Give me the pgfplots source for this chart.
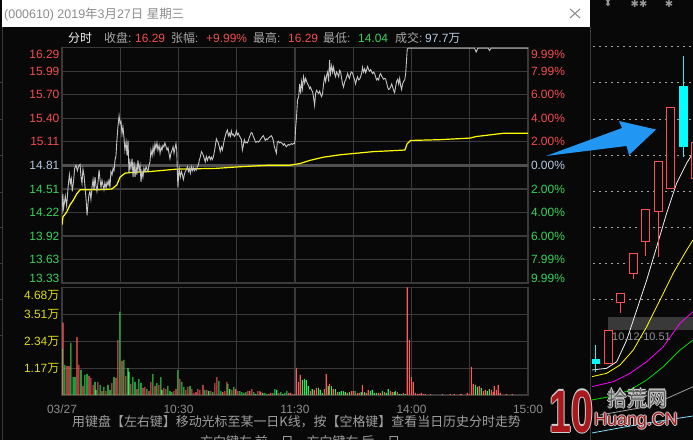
\documentclass[border=0pt]{standalone}
\usepackage{graphicx}
\usepackage{pgfplots}
\pgfplotsset{compat=1.18}
\usepgfplotslibrary{statistics}
\usepackage{fontspec}
\setmainfont{Liberation Sans}
\newfontfamily\cjk{Noto Sans CJK SC}
\newfontfamily\dejavu{DejaVu Sans}
\newcommand\fs[1]{\fontsize{#1}{#1}\selectfont}
\definecolor{bgc}{HTML}{080808}
\definecolor{gridc}{HTML}{3A3A3A}
\definecolor{zeroc}{HTML}{505050}
\definecolor{pred}{HTML}{F24D4D}
\definecolor{pgreen}{HTML}{33D35A}
\definecolor{pblue}{HTML}{B4C8E0}
\definecolor{pyel}{HTML}{DCDC10}
\definecolor{vred}{HTML}{FF5A5A}
\definecolor{vgreen}{HTML}{30E858}
\definecolor{pline}{HTML}{C4C4C4}
\definecolor{avgc}{HTML}{FFFF00}
\definecolor{lblgray}{HTML}{A8A8A8}
\definecolor{ttlgray}{HTML}{8C8C8C}
\definecolor{kred}{HTML}{FF4F4F}
\definecolor{kcyan}{HTML}{00FFFF}
\definecolor{arrowc}{HTML}{2196F3}
\definecolor{mafive}{HTML}{F0F0F0}
\definecolor{maten}{HTML}{FFFF00}
\definecolor{matwenty}{HTML}{FF00FF}
\definecolor{mathirty}{HTML}{00E000}
\definecolor{masixty}{HTML}{A0A0A0}
\definecolor{mahund}{HTML}{80E0FF}
\definecolor{wmred}{HTML}{A8181C}
\definecolor{wmgray}{HTML}{5E5E5E}
\definecolor{wmout}{HTML}{CFCFCF}
\newcommand\outl[2]{%
 \rlap{\color{wmout}\kern-#1bp#2}%
 \rlap{\color{wmout}\kern#1bp#2}%
 \rlap{\color{wmout}\raisebox{#1bp}{#2}}%
 \rlap{\color{wmout}\raisebox{-#1bp}{#2}}%
 #2}

\begin{document}
\begin{tikzpicture}
\useasboundingbox (0,0) rectangle (693bp,-440bp);
\fill[bgc] (0,0) rectangle (693bp,-440bp);

\begin{scope}[x=1bp,y=-1bp]
% title bar
\fill[white] (2,0) rectangle (590,27);
\node[anchor=base west, inner sep=0pt, text=ttlgray, font=\fs{12.5}] at (4,18) {(000610) 2019{\cjk 年}3{\cjk 月}27{\cjk 日} {\cjk 星期三}};
\draw[ttlgray, line width=1.1bp] (570,9)--(580,18) (570,18)--(580,9);
% left strip
\draw[gridc, line width=1bp] (2.5,27)--(2.5,440);
\foreach \yy in {82,119,155,192,227,263,299,335} {\draw[gridc, line width=1bp] (0,\yy)--(2.5,\yy);}
% right panel
\draw[gridc, line width=1.2bp] (590.7,27)--(590.7,440);
\foreach \yy in {46,82,119,155,191,227,263,299} {\draw[gray!70, line width=0.8bp, dash pattern=on 1.5bp off 4.5bp] (593,\yy)--(693,\yy);}
\node[text=gray!80, font=\dejavu\fs{10}, inner sep=0pt] at (608,3) {⬍};
\node[text=gray!80, font=\dejavu\fs{10}, inner sep=0pt] at (639,3.5) {✱✱};
\node[text=gray!80, font=\dejavu\fs{10}, inner sep=0pt] at (669,3.5) {✱};
\fill[gray!45!black] (608,317) rectangle (693,330);
\node[anchor=west, inner sep=0pt, text=gray!85, font=\fs{11}] at (612,337) {10.12-10.51};
% header
\begin{scope}[every node/.style={anchor=base west, inner sep=0pt, font=\fs{12}}]
\node[text=white!90!gray] at (68,42.5) {\cjk 分时};
\node[text=lblgray] at (104,42.5) {{\cjk 收盘}:};
\node[text=pred] at (135,42.5) {16.29};
\node[text=lblgray] at (171,42.5) {{\cjk 张幅}:};
\node[text=pred] at (206,42.5) {+9.99\%};
\node[text=lblgray] at (253,42.5) {{\cjk 最高}:};
\node[text=pred] at (288,42.5) {16.29};
\node[text=lblgray] at (323,42.5) {{\cjk 最低}:};
\node[text=pgreen] at (358,42.5) {14.04};
\node[text=lblgray] at (395,42.5) {{\cjk 成交}:};
\node[text=pblue] at (425,42.5) {97.7{\cjk 万}};
\end{scope}
\end{scope}

% ---------- price panel ----------
\begin{axis}[
  at={(62bp,-283bp)}, anchor=south west, scale only axis,
  width=466bp, height=235.7bp,
  xmin=0, xmax=240, ymin=13.33, ymax=16.29,
  axis line style={draw=gridc, line width=1.1bp},
  grid=major, major grid style={draw=gridc, line width=1.1bp},
  tick style={draw=none},
  xtick={0,30,...,240}, xticklabels={},
  ytick={13.33,13.63,13.92,14.22,14.51,14.81,15.11,15.40,15.70,15.99,16.29},
  yticklabels={\raisebox{4.5bp}{\textcolor{pgreen}{13.33}},\textcolor{pgreen}{13.63},\textcolor{pgreen}{13.92},\textcolor{pgreen}{14.22},\textcolor{pgreen}{14.51},\textcolor{pblue}{14.81},\textcolor{pred}{15.11},\textcolor{pred}{15.40},\textcolor{pred}{15.70},\textcolor{pred}{15.99},\raisebox{-6.5bp}{\textcolor{pred}{16.29}}},
  yticklabel style={anchor=east, font=\fs{12}, text height=8.6bp, text depth=0bp, inner sep=0pt, xshift=-2.5bp},
  /pgf/number format/assume math mode=true,
]
\addplot[zeroc, line width=3bp] coordinates {(0,14.81) (240,14.81)};
\addplot[avgc, line width=1.2bp] coordinates {
(0,14.06)(0.5,14.16)(2.4,14.22)(4.1,14.31)(5.8,14.37)(7.6,14.45)(9.3,14.50)(12.7,14.50)(17.9,14.50)(25.6,14.51)(28.2,14.56)(29.9,14.66)(32.5,14.71)(36.7,14.72)(45.3,14.73)(59.1,14.76)(79.7,14.77)(91.7,14.79)(107.2,14.81)(117.4,14.81)(122.6,14.83)(127.7,14.87)(134.6,14.91)(143.2,14.94)(151.7,14.96)(160.3,14.98)(168.9,14.99)(176.6,15.00)(177.8,15.08)(179.5,15.12)(194.7,15.13)(210.1,15.15)(213.5,15.17)(227.3,15.21)(240,15.21)};
\addplot[pline, line width=0.9bp] coordinates {
(0,14.20)(0.4,14.45)(0.8,14.27)(1.2,14.33)(1.7,14.42)(2.4,14.30)(3.1,14.52)(3.8,14.69)(4.3,14.58)(4.8,14.64)(5.3,14.48)(6.0,14.62)(6.5,14.77)(7.2,14.81)(7.9,14.74)(8.6,14.80)(9.3,14.82)(9.8,14.66)(10.3,14.58)(10.8,14.76)(11.3,14.69)(11.9,14.53)(12.4,14.38)(12.9,14.18)(13.4,14.33)(13.9,14.44)(14.4,14.48)(14.9,14.38)(15.5,14.54)(16.0,14.63)(16.5,14.50)(17.0,14.66)(17.5,14.55)(18.0,14.48)(18.5,14.58)(19.1,14.75)(19.6,14.62)(20.1,14.53)(20.6,14.62)(21.1,14.56)(21.6,14.50)(22.1,14.59)(22.7,14.52)(23.2,14.60)(23.7,14.56)(24.2,14.62)(24.7,14.53)(25.2,14.73)(25.8,14.69)(26.3,14.77)(26.8,14.74)(27.3,14.87)(27.8,14.93)(28.3,15.13)(28.8,15.29)(29.4,15.43)(29.9,15.33)(30.4,15.36)(30.9,15.20)(31.4,15.29)(31.9,15.16)(32.4,15.00)(33.0,15.10)(33.5,14.93)(34.0,15.12)(34.5,14.71)(35.0,14.85)(35.5,14.77)(36.1,14.89)(36.6,14.66)(37.1,14.85)(37.6,14.66)(38.1,14.79)(38.6,14.69)(39.1,14.87)(39.7,14.75)(40.2,14.81)(40.7,14.60)(41.2,14.73)(41.7,14.66)(42.2,14.77)(42.7,14.73)(43.3,14.79)(43.8,14.75)(44.3,14.73)(44.8,14.81)(45.3,14.85)(45.8,15.00)(46.4,14.93)(46.9,15.04)(47.4,14.96)(47.9,15.08)(48.4,15.02)(48.9,15.09)(49.4,15.00)(50.0,15.06)(50.5,14.96)(51.0,15.04)(51.5,15.00)(52.0,15.06)(52.5,15.04)(53.0,15.09)(53.6,15.04)(54.1,15.00)(54.6,15.03)(55.1,14.96)(55.6,14.89)(56.1,14.96)(56.7,15.00)(57.2,15.04)(57.7,14.96)(58.2,15.02)(58.7,15.08)(59.1,15.00)(59.4,14.73)(59.7,14.53)(60.1,14.71)(60.4,14.77)(60.9,14.66)(61.5,14.73)(62.0,14.69)(62.5,14.63)(63.0,14.69)(63.5,14.73)(64.0,14.75)(64.6,14.79)(65.1,14.73)(65.6,14.77)(66.1,14.71)(66.6,14.79)(67.1,14.74)(67.6,14.78)(68.2,14.74)(68.7,14.77)(69.2,14.75)(69.7,14.79)(70.2,14.81)(70.7,14.87)(71.2,14.91)(71.8,14.98)(72.3,14.96)(72.8,14.93)(73.3,14.89)(73.8,14.85)(74.3,14.92)(74.9,14.87)(75.4,14.91)(75.9,14.92)(76.4,14.88)(76.9,14.91)(77.4,14.88)(77.9,14.91)(78.5,14.98)(79.0,15.06)(79.5,15.14)(80.0,15.11)(80.5,15.09)(81.0,15.04)(81.5,14.98)(82.1,15.04)(82.6,15.00)(83.1,15.06)(83.6,15.13)(84.1,15.18)(84.6,15.22)(85.2,15.25)(85.7,15.18)(86.2,15.21)(86.7,15.17)(87.2,15.24)(87.7,15.19)(88.2,15.20)(88.8,15.17)(89.3,15.19)(89.8,15.24)(90.3,15.19)(90.8,15.21)(91.3,15.18)(91.8,15.16)(92.4,15.13)(92.9,15.00)(93.4,15.06)(93.9,15.13)(94.4,15.09)(94.9,15.10)(95.5,15.09)(96.0,15.12)(96.5,15.16)(97.0,15.19)(97.5,15.22)(98.0,15.21)(98.5,15.17)(99.1,15.14)(99.6,15.10)(100.1,15.10)(100.6,15.11)(101.1,15.10)(101.6,15.11)(102.1,15.13)(102.7,15.15)(103.2,15.17)(103.7,15.18)(104.2,15.15)(104.7,15.12)(105.2,15.14)(105.8,15.13)(106.3,15.15)(106.8,15.16)(107.3,15.17)(107.8,15.18)(108.3,15.16)(108.8,15.12)(109.4,15.04)(109.9,15.00)(110.4,14.96)(110.9,15.10)(111.4,15.11)(111.9,15.09)(112.4,15.10)(113.0,15.09)(113.5,15.08)(114.0,15.06)(114.5,15.08)(115.0,15.06)(115.5,15.04)(116.1,15.06)(116.6,15.07)(117.1,15.06)(117.6,15.07)(118.1,15.08)(118.6,15.07)(119.1,15.08)(119.7,15.08)
(120.0,15.12)(120.3,15.27)(120.8,15.42)(121.3,15.63)(121.9,15.67)(122.4,15.83)(122.9,15.71)(123.4,15.86)(123.9,15.77)(124.4,15.92)(125.0,15.84)(125.5,15.90)(126.0,15.86)(126.5,15.83)(127.0,15.81)(127.5,15.77)(128.0,15.79)(128.6,15.75)(129.1,15.73)(129.6,15.65)(130.1,15.56)(130.6,15.71)(131.1,15.75)(131.6,15.73)(132.2,15.71)(132.7,15.74)(133.2,15.70)(133.7,15.67)(134.2,15.71)(134.7,15.83)(135.3,15.92)(135.8,15.86)(136.3,15.94)(136.8,15.98)(137.3,15.86)(137.8,16.13)(138.3,15.96)(138.9,16.06)(139.4,15.98)(139.9,16.04)(140.4,15.96)(140.9,15.92)(141.4,15.98)(141.9,15.96)(142.5,15.92)(143.0,16.00)(143.5,15.98)(144.0,15.90)(144.5,15.83)(145.0,15.79)(145.6,15.86)(146.1,15.88)(146.6,15.92)(147.1,15.96)(147.6,15.92)(148.1,15.90)(148.6,15.96)(149.2,15.98)(149.7,15.96)(150.2,15.92)(150.7,15.88)(151.2,15.83)(151.7,15.88)(152.2,15.92)(152.8,15.88)(153.3,15.89)(153.8,15.92)(154.3,15.96)(154.8,16.04)(155.3,15.98)(155.9,16.02)(156.4,15.97)(156.9,16.01)(157.4,16.05)(157.9,16.01)(158.4,15.99)(159.0,16.01)(159.5,15.98)(160.0,15.96)(160.5,15.98)(161.0,15.96)(161.5,15.92)(162.0,15.88)(162.6,15.90)(163.1,15.88)(163.6,15.94)(164.1,15.96)(164.6,15.93)(165.1,15.91)(165.6,15.89)(166.2,15.90)(166.7,15.89)(167.2,15.84)(167.7,15.79)(168.2,15.76)(168.7,15.77)(169.2,15.79)(169.8,15.83)(170.3,15.79)(170.8,15.75)(171.3,15.72)(171.8,15.79)(172.3,15.86)(172.9,15.89)(173.4,15.83)(173.9,15.90)(174.4,15.81)(174.9,15.76)(175.4,15.83)(175.9,15.86)(176.5,15.88)(177.0,15.96)(177.5,16.15)(177.8,16.27)(178.3,16.28)(212.5,16.28)(213.3,16.23)(214.2,16.28)(219.5,16.28)(220.2,16.25)(221,16.28)(240,16.28)};
\end{axis}
\begin{axis}[
  at={(62bp,-283bp)}, anchor=south west, scale only axis,
  width=466bp, height=235.7bp,
  xmin=0, xmax=240, ymin=13.33, ymax=16.29,
  axis line style={draw=none}, tick style={draw=none},
  xtick=\empty, yticklabel pos=right,
  ytick={13.33,13.63,13.92,14.22,14.51,14.81,15.11,15.40,15.70,15.99,16.29},
  yticklabels={\raisebox{4.5bp}{\textcolor{pgreen}{9.99\%}},\textcolor{pgreen}{7.99\%},\textcolor{pgreen}{6.00\%},\textcolor{pgreen}{4.00\%},\textcolor{pgreen}{2.00\%},\textcolor{pblue}{0.00\%},\textcolor{pred}{2.00\%},\textcolor{pred}{4.00\%},\textcolor{pred}{6.00\%},\textcolor{pred}{7.99\%},\raisebox{-6.5bp}{\textcolor{pred}{9.99\%}}},
  yticklabel style={anchor=west, font=\fs{12}, text height=8.6bp, text depth=0bp, inner sep=0pt, xshift=2.8bp},
]
\addplot[draw=none] coordinates {(0,14.81)};
\end{axis}

% ---------- volume panel ----------
\begin{axis}[
  at={(62bp,-395bp)}, anchor=south west, scale only axis,
  width=466bp, height=107.7bp,
  xmin=0, xmax=240, ymin=0, ymax=4.68,
  axis line style={draw=gridc, line width=1.1bp},
  grid=major, major grid style={draw=gridc, line width=1.1bp},
  tick style={draw=none},
  xtick={0,30,...,240}, xticklabels={03/27,,10:30,,11:30,,14:00,,15:00},
  xticklabel style={anchor=north, font=\fs{12}, text=ttlgray, text height=8.6bp, text depth=0bp, inner sep=0pt, yshift=-5.5bp},
  ytick={1.17,2.34,3.51,4.68},
  yticklabels={1.17{\cjk 万},2.34{\cjk 万},3.51{\cjk 万},\raisebox{-8bp}{4.68{\cjk 万}}},
  yticklabel style={anchor=east, font=\fs{12}, text=pyel, text height=8.6bp, text depth=0bp, inner sep=0pt, xshift=-2.5bp},
  ybar, bar width=1.1bp, bar shift=0pt,
]
\addplot[fill=vred, draw=none] coordinates {
(0.5,3.14)(2.6,1.26)(3.6,1.26)(7.7,2.53)(8.7,1.31)(10.8,0.39)(13.9,0.83)(14.9,0.74)(16.0,0.44)(18.5,0.57)(20.6,0.17)(22.6,0.17)(25.7,0.52)(27.8,0.74)(28.8,2.40)(30.9,1.48)(32.9,0.83)(35.5,0.48)(38.6,0.26)(41.7,0.31)(42.7,0.35)(44.8,0.17)(45.8,0.57)(47.9,0.39)(49.9,0.44)(52.5,0.31)(53.5,0.26)(57.6,0.17)(58.7,0.26)(60.7,0.70)(63.8,0.22)(64.8,0.35)(66.9,0.26)(67.9,0.09)(69.0,0.13)(70.0,0.26)(71.0,0.22)(72.6,0.44)(74.6,0.22)(76.7,0.17)(78.7,0.52)(79.8,0.78)(82.8,0.13)(83.9,0.17)(84.9,0.57)(87.5,0.22)(89.5,0.26)(90.6,0.17)(95.7,0.17)(96.7,0.17)(97.8,0.26)(100.9,0.17)(101.9,0.17)(102.4,0.13)(106.5,0.04)(107.5,0.09)(111.7,0.09)(116.8,0.09)(117.8,0.09)(118.9,0.04)
(120.7,1.18)(121.7,0.57)(122.7,0.87)(127.9,0.17)(129.9,0.22)(131.0,0.31)(135.1,0.26)(136.1,0.92)(137.7,0.48)(139.7,0.26)(141.8,0.13)(146.9,0.09)(149.0,0.17)(150.0,0.17)(152.1,0.09)(153.1,0.09)(154.7,0.44)(156.7,0.09)(157.7,0.22)(162.9,0.09)(163.9,0.09)(166.0,0.13)(169.1,0.17)(170.1,0.13)(172.7,0.13)(175.8,0.09)(177.8,4.68)(178.9,2.40)(179.9,0.78)(180.9,0.57)(182.0,0.09)(183.0,0.04)(184.0,0.04)(185.0,0.09)(186.1,0.04)(187.1,0.04)(189.7,0.04)(195.9,0.04)(200.0,0.04)(202.0,0.04)(205.1,0.04)(205.6,0.04)(208.7,0.09)(209.8,0.04)(210.8,1.22)(211.8,0.48)(214.9,0.39)(217.0,0.17)(218.0,0.22)(221.1,0.22)(222.1,0.13)(222.6,0.39)(223.7,0.22)(224.7,0.44)(225.7,0.09)(228.8,0.04)(231.9,0.04)};
\addplot[fill=vgreen, draw=none] coordinates {
(0,2.0)(1.5,1.31)(4.6,2.27)(5.7,0.78)(6.7,0.78)(9.8,1.09)(11.8,0.87)(12.9,0.92)(17.0,0.57)(17.5,0.22)(19.6,0.44)(21.6,0.35)(23.7,0.44)(24.7,0.22)(26.8,0.78)(29.8,3.62)(31.9,1.53)(34.0,1.18)(34.5,1.0)(36.5,0.78)(37.6,0.57)(39.6,0.70)(40.7,0.52)(43.7,0.26)(46.8,0.92)(48.9,0.52)(50.9,0.78)(51.5,0.22)(54.5,0.39)(55.6,0.17)(56.6,0.13)(59.7,1.09)(61.7,0.57)(62.8,0.35)(65.9,0.39)(73.6,0.22)(75.6,0.17)(77.7,0.13)(80.8,0.61)(81.8,0.17)(85.4,0.48)(86.4,0.26)(88.5,0.35)(91.6,0.17)(92.6,0.13)(93.7,0.09)(94.7,0.13)(98.8,0.13)(99.8,0.04)(103.4,0.09)(104.5,0.09)(105.5,0.04)(108.6,0.09)(109.6,0.26)(110.6,0.22)(112.7,0.13)(113.7,0.04)(114.8,0.09)(115.8,0.17)(119.9,0.04)
(123.8,0.65)(124.8,0.70)(125.8,0.65)(126.8,0.39)(128.9,0.26)(132.0,0.31)(133.0,0.22)(134.1,0.09)(137.1,0.39)(138.7,0.39)(140.8,0.26)(142.8,0.13)(143.8,0.17)(144.9,0.17)(145.9,0.13)(148.0,0.13)(151.0,0.17)(154.1,0.13)(155.7,0.13)(158.8,0.17)(159.8,0.22)(160.8,0.09)(161.9,0.09)(165.0,0.17)(167.0,0.09)(168.0,0.26)(171.1,0.13)(171.7,0.17)(173.7,0.04)(174.7,0.04)(176.8,0.04)(212.9,0.44)(213.9,0.35)(215.9,0.31)(219.0,0.17)(220.1,0.26)};
\end{axis}

% ---------- side K-line panel ----------
\begin{axis}[
  at={(592bp,-440bp)}, anchor=south west, scale only axis,
  width=101bp, height=440bp,
  xmin=592, xmax=693, ymin=0, ymax=440,
  hide axis, clip=true,
  boxplot/draw direction=y,
]
\addplot[mahund, line width=0.8bp] coordinates {(591.7,7)(646.7,17)(693,24)};
\addplot[masixty, line width=0.8bp] coordinates {(600,25)(646.7,33.3)(670,43)(693,53.3)};
\addplot[mathirty, line width=0.8bp] coordinates {(591.7,40)(613.3,44)(630,50)(646.7,60)(663.3,73.3)(680,90)(693,100)};
\addplot[matwenty, line width=0.8bp] coordinates {(591.7,53.3)(613.3,58.3)(630,66.7)(646.7,78.3)(663.3,93.3)(680,116.7)(693,128.3)};
\addplot[maten, line width=0.8bp] coordinates {(591.7,63.3)(606.7,66.7)(620,75)(633.3,90)(646.7,113.3)(660,140)(673.3,167)(686.7,190)(693,200)};
\addplot[mafive, line width=0.8bp] coordinates {(591.7,70)(606.7,71.7)(616.7,78.3)(626.7,100)(636.7,130)(646.7,160)(656.7,193.3)(666.7,227)(676.7,257)(686.7,277)(693,287)};
\addplot[draw=kcyan, fill=kcyan, line width=1bp, boxplot prepared={draw position=595.5, lower whisker=68, lower quartile=77, median=77, upper quartile=81, upper whisker=95, box extend=8.5, whisker extend=0}] coordinates {};
\addplot[draw=kred, fill=bgc, line width=1bp, boxplot prepared={draw position=608, lower whisker=77, lower quartile=77, median=77, upper quartile=110, upper whisker=110, box extend=8, whisker extend=0}] coordinates {};
\addplot[draw=kred, fill=bgc, line width=1bp, boxplot prepared={draw position=620.5, lower whisker=127, lower quartile=138, median=138, upper quartile=147, upper whisker=147, box extend=8, whisker extend=0}] coordinates {};
\addplot[draw=kred, fill=bgc, line width=1bp, boxplot prepared={draw position=633, lower whisker=161, lower quartile=167, median=167, upper quartile=187, upper whisker=187, box extend=8, whisker extend=0}] coordinates {};
\addplot[draw=kred, fill=bgc, line width=1bp, boxplot prepared={draw position=645.5, lower whisker=184, lower quartile=199, median=199, upper quartile=231, upper whisker=231, box extend=8, whisker extend=0}] coordinates {};
\addplot[draw=kred, fill=bgc, line width=1bp, boxplot prepared={draw position=658, lower whisker=183, lower quartile=229, median=229, upper quartile=279, upper whisker=279, box extend=8, whisker extend=0}] coordinates {};
\addplot[draw=kred, fill=bgc, line width=1bp, boxplot prepared={draw position=670.5, lower whisker=252, lower quartile=252, median=252, upper quartile=333, upper whisker=333, box extend=8.5, whisker extend=0}] coordinates {};
\addplot[draw=kcyan, fill=kcyan, line width=1bp, boxplot prepared={draw position=683.5, lower whisker=283, lower quartile=294, median=294, upper quartile=354, upper whisker=384, box extend=8.5, whisker extend=0}] coordinates {};
\addplot[draw=kred, fill=bgc, line width=1bp, boxplot prepared={draw position=696, lower whisker=262, lower quartile=262, median=262, upper quartile=298, upper whisker=298, box extend=8.5, whisker extend=0}] coordinates {};
\end{axis}

\begin{scope}[x=1bp,y=-1bp]
% arrow
\fill[arrowc] (546,156) -- (622,128) -- (619,121) -- (656,129.5) -- (629,155) -- (626.5,146) -- cycle;
% watermark
\node[text=wmred, font=\bfseries\fs{60}, inner sep=0pt] at (571.5,411.5) {\scalebox{0.66}[1]{\outl{1.6}{10}}};
\node[text=wmgray, font=\cjk\fs{20}, inner sep=0pt] at (637.5,398.5) {\outl{1.2}{拾荒网}};
\node[text=wmred, font=\fs{18}, inner sep=0pt] at (636,421) {\outl{1.1}{Huang.CN}};
% bottom text
\node[anchor=west, inner sep=0pt, text=gray!75, font=\cjk\fs{13}] at (72,421.7) {用键盘【左右键】移动光标至某一日K线，按【空格键】查看当日历史分时走势};
\node[anchor=west, inner sep=0pt, text=gray!75, font=\cjk\fs{13}] at (200,442) {方向键左 前一日，方向键右 后一日};
\end{scope}
\end{tikzpicture}
\end{document}
